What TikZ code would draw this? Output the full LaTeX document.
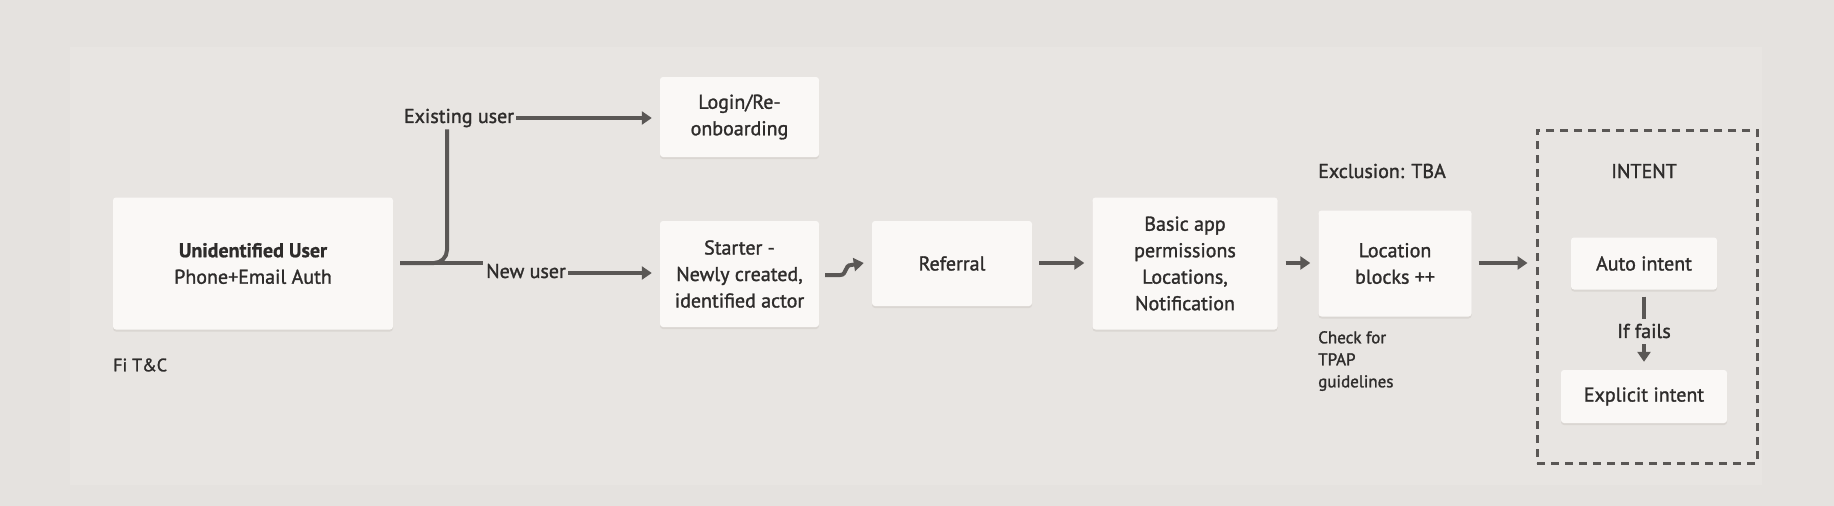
\documentclass[tikz,border=0pt]{standalone}
\usepackage{fontspec}
\setmainfont{PT Sans}[FakeBold=1.4]
\newfontfamily\boldfam{PT Sans Bold}[FakeBold=0.8]
\usetikzlibrary{arrows.meta}
\definecolor{bgout}{HTML}{E5E2DF}
\definecolor{bgin}{HTML}{E8E5E2}
\definecolor{boxfill}{HTML}{FAF8F6}
\definecolor{ink}{HTML}{2E2C2B}
\definecolor{linec}{HTML}{5A5755}
\definecolor{shadowc}{HTML}{DAD6D2}
\tikzset{
  card/.style={fill=boxfill, rounded corners=3pt, align=center, text=ink,
    font=\fontsize{20}{26.5}\selectfont, inner sep=0pt,
    preaction={fill=shadowc, transform canvas={yshift=-2pt}}},
  lbl/.style={text=ink, font=\fontsize{20}{26}\selectfont, inner sep=2pt},
  small/.style={text=ink, font=\fontsize{17}{22}\selectfont, inner sep=0pt, align=left},
  conn/.style={draw=linec, line width=4pt},
  arr/.style={conn, -{Triangle[length=10pt,width=13pt]}},
}
\begin{document}
\begin{tikzpicture}[x=1pt,y=-1pt]
\fill[bgout] (0,0) rectangle (1834,506);
\fill[bgin] (70,47) rectangle (1762,485);
\useasboundingbox (0,0) rectangle (1834,506);

% boxes
\node[card, minimum width=280, minimum height=132] (unid) at (253,263.5)
  {{\boldfam Unidentified User}\\Phone+Email Auth};
\node[card, minimum width=159, minimum height=80] (login) at (739.5,117)
  {Login/Re-\\onboarding};
\node[card, minimum width=159, minimum height=106] (starter) at (739.5,274)
  {Starter -\\Newly created,\\identified actor};
\node[card, minimum width=160, minimum height=85] (referral) at (952,263.5)
  {Referral};
\node[card, minimum width=185, minimum height=132] (basic) at (1185,263.5)
  {Basic app\\permissions\\Locations,\\Notification};
\node[card, minimum width=153, minimum height=106] (loc) at (1395,263.5)
  {Location\\blocks ++};
\node[draw=linec, line width=3pt, dash pattern=on 8pt off 6pt,
  minimum width=220, minimum height=333, inner sep=0pt] (intent) at (1647,296.5) {};
\node[card, minimum width=146, minimum height=52] (auto) at (1644,263.5)
  {Auto intent};
\node[card, minimum width=166, minimum height=53] (explicit) at (1644,396.5)
  {Explicit intent};

% labels
\node[lbl] (exist) at (459,118) {Existing user};
\node[lbl] (newu) at (526,271) {New user};
\node[lbl] (iff) at (1644,331) {If fails};
\node[lbl, anchor=west, inner sep=0pt] (fitc) at (113,365) {\fontsize{18}{22}\selectfont Fi T\&C};
\node[lbl, anchor=west, inner sep=0pt] (excl) at (1318,171) {Exclusion: TBA};
\node[lbl] (intt) at (1644,171) {INTENT};
\node[small, anchor=north west] (check) at (1318,331) {Check for\\TPAP\\guidelines};

% connectors
\coordinate (j) at (447,263);
\draw[conn] ([xshift=7pt]unid.east |- j) -- ([xshift=-1pt]newu.west |- j);
\draw[conn, rounded corners=13pt] ([xshift=7pt]unid.east |- j) -- (j) -- (j |- exist.south);
\draw[arr] (exist.east) -- ([xshift=-8pt]login.west |- exist.east);
\draw[arr] (newu.east |- 0,273) -- ([xshift=-8pt]starter.west |- 0,273);
\draw[arr] ([xshift=6pt,yshift=-1pt]starter.east) -- ++(15,0)
  .. controls +(7,0) and +(-7,0) .. ++(11,-10) -- ([xshift=-8pt]referral.west |- 0,263);
\draw[arr] ([xshift=7pt]referral.east |- 0,263) -- ([xshift=-8pt]basic.west |- 0,263);
\draw[arr] ([xshift=8pt]basic.east |- 0,263) -- ([xshift=-8pt]loc.west |- 0,263);
\draw[arr] ([xshift=7pt]loc.east |- 0,263) -- ([xshift=-8pt]intent.west |- 0,263);
\draw[conn] ([yshift=-7pt]auto.south) -- ([yshift=3pt]iff.north);
\draw[arr] ([yshift=-4pt]iff.south) -- ([yshift=8pt]explicit.north);
\end{tikzpicture}
\end{document}
